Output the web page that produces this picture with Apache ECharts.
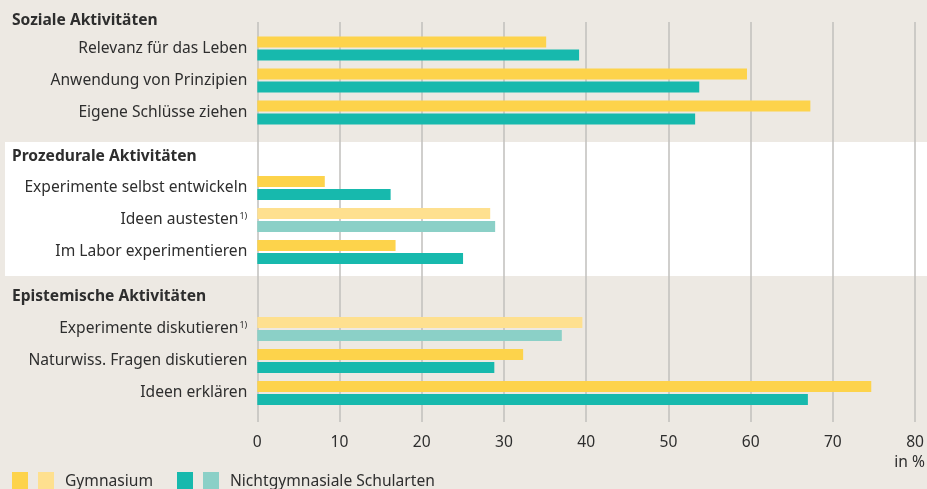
<!DOCTYPE html>
<html><head><meta charset="utf-8">
<script src="https://cdn.jsdelivr.net/npm/echarts@6/dist/echarts.min.js"></script>
<style>html,body{margin:0;padding:0;background:#ede9e3}#c{width:927px;height:489px}</style>
</head><body><div id="c"></div>
<script>
const groups = ["Soziale Aktivitäten", "Prozedurale Aktivitäten", "Epistemische Aktivitäten"];
const categories = [
  ["Relevanz für das Leben", "Anwendung von Prinzipien", "Eigene Schlüsse ziehen"],
  ["Experimente selbst entwickeln", "Ideen austesten", "Im Labor experimentieren"],
  ["Experimente diskutieren", "Naturwiss. Fragen diskutieren", "Ideen erklären"]
];
const footnote = [
  [false, false, false],
  [false, true, false],
  [true, false, false]
];
const gymnasium = [
  [35.1, 59.5, 67.2],
  [8.2, 28.3, 16.8],
  [39.5, 32.3, 74.6]
];
const nichtgym = [
  [39.1, 53.7, 53.2],
  [16.2, 28.9, 25.0],
  [37.0, 28.8, 66.9]
];
const xTicks = [0, 10, 20, 30, 40, 50, 60, 70, 80];
const seriesNames = ["Gymnasium", "Nichtgymnasiale Schularten"];

const C = {
  g: "#fdd34b", gL: "#fee08f", n: "#17b9ad", nL: "#8bd0c7",
  text: "#2e2e2e", grid: "#c0bfbd", bg: "#ede9e3"
};
const FONT = "Noto Sans";
const FS = 15.6;
const L = 257.3, R = 11.3;
const gridTops = [32.5, 172, 313];
const bandH = 32;

const grids = [], xAxes = [], yAxes = [], series = [];
groups.forEach((g, i) => {
  grids.push({ left: L, right: R, top: gridTops[i], height: bandH * categories[i].length });
  xAxes.push({ gridIndex: i, type: "value", min: 0, max: 80, show: false });
  yAxes.push({
    gridIndex: i, type: "category", inverse: true, data: categories[i],
    axisLine: { show: false }, axisTick: { show: false }, splitLine: { show: false },
    axisLabel: {
      margin: 10, color: C.text, fontFamily: FONT, fontSize: FS,
      formatter: (v, idx) => footnote[i][idx] ? `{a|${v}}{s|1)}` : `{a|${v}}`,
      rich: {
        a: { fontFamily: FONT, fontSize: FS, color: C.text, lineHeight: 20 },
        s: { fontFamily: FONT, fontSize: 9, color: C.text, lineHeight: 20, padding: [0, 0, 8, 1] }
      }
    }
  });
  series.push({
    type: "bar", name: seriesNames[0], xAxisIndex: i, yAxisIndex: i,
    barWidth: 11, barGap: "18%",
    data: gymnasium[i].map((v, k) => ({ value: v, itemStyle: { color: footnote[i][k] ? C.gL : C.g } }))
  });
  series.push({
    type: "bar", name: seriesNames[1], xAxisIndex: i, yAxisIndex: i,
    barWidth: 11, barGap: "18%",
    data: nichtgym[i].map((v, k) => ({ value: v, itemStyle: { color: footnote[i][k] ? C.nL : C.n } }))
  });
});
// master grid with gridlines and tick labels
grids.push({ left: L, right: R, top: 22, height: 400 });
xAxes.push({
  gridIndex: 3, type: "value", min: xTicks[0], max: xTicks[xTicks.length - 1], interval: 10,
  axisLine: { show: false }, axisTick: { show: false },
  splitLine: { show: true, lineStyle: { color: C.grid, width: 1.5 } },
  axisLabel: { margin: 13, color: C.text, fontFamily: FONT, fontSize: FS }
});
yAxes.push({ gridIndex: 3, type: "value", min: 0, max: 1, show: false });

const bold = `bold ${FS}px "${FONT}"`, reg = `${FS}px "${FONT}"`;
const graphic = [
  { type: "rect", z: -100, shape: { x: 5, y: 142, width: 922, height: 134 }, style: { fill: "#ffffff" }, silent: true },
  { type: "text", x: 12, y: 21, style: { text: groups[0], font: bold, fill: C.text, textVerticalAlign: "middle" } },
  { type: "text", x: 12, y: 157, style: { text: groups[1], font: bold, fill: C.text, textVerticalAlign: "middle" } },
  { type: "text", x: 12, y: 297, style: { text: groups[2], font: bold, fill: C.text, textVerticalAlign: "middle" } },
  { type: "text", x: 925, y: 463, style: { text: "in %", font: reg, fill: C.text, textAlign: "right", textVerticalAlign: "middle" } },
  { type: "rect", shape: { x: 12, y: 472, width: 16, height: 17 }, style: { fill: C.g } },
  { type: "rect", shape: { x: 38, y: 472, width: 16, height: 17 }, style: { fill: C.gL } },
  { type: "text", x: 65, y: 482, style: { text: seriesNames[0], font: reg, fill: C.text, textVerticalAlign: "middle" } },
  { type: "rect", shape: { x: 177, y: 472, width: 16, height: 17 }, style: { fill: C.n } },
  { type: "rect", shape: { x: 203, y: 472, width: 16, height: 17 }, style: { fill: C.nL } },
  { type: "text", x: 230, y: 482, style: { text: seriesNames[1], font: reg, fill: C.text, textVerticalAlign: "middle" } }
];

const chart = echarts.init(document.getElementById("c"), null, { renderer: "canvas" });
chart.setOption({
  backgroundColor: C.bg,
  animation: false,
  grid: grids, xAxis: xAxes, yAxis: yAxes, series: series, graphic: graphic
});
</script></body></html>
